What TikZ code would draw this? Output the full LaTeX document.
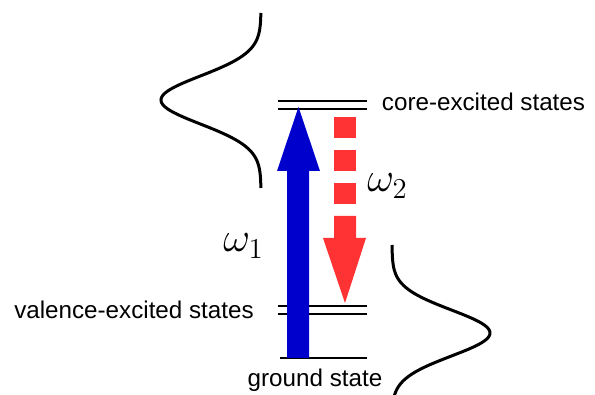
\documentclass[tikz,border=0pt]{standalone}
\usepackage{fontspec}
\setmainfont{Liberation Sans}
\definecolor{upblue}{RGB}{0,0,204}
\definecolor{downred}{RGB}{255,51,51}
\begin{document}
\begin{tikzpicture}[x=0.5pt,y=-0.5pt,
  level/.style={line width=1pt, black},
  gauss/.style={line width=1.5pt, black, line join=round},
  lbl/.style={inner sep=0pt, font=\fontsize{12.1}{14}\selectfont, anchor=base},
  omega/.style={inner sep=0pt, font=\fontsize{20.5}{24}\selectfont, anchor=base west}]
\useasboundingbox (0,0) rectangle (595,395);
\clip (0,0) rectangle (595,395);
% energy levels
\coordinate (c1l) at (278,101); \coordinate (c1r) at (367,101);
\coordinate (c2l) at (278,109); \coordinate (c2r) at (367,109);
\coordinate (v1l) at (278,306); \coordinate (v1r) at (367,306);
\coordinate (v2l) at (278,314); \coordinate (v2r) at (367,314);
\coordinate (gl) at (280,358);  \coordinate (gr) at (367,358);
\draw[level] (c1l) -- (c1r);
\draw[level] (c2l) -- (c2r);
\draw[level] (v1l) -- (v1r);
\draw[level] (v2l) -- (v2r);
\draw[level] (gl) -- (gr);
% gaussians
\draw[gauss] plot[domain=13:188, samples=120, variable=\t] ({261-100*exp(-((\t-100)/24)^2/2)}, \t);
\draw[gauss] plot[domain=245:400, samples=120, variable=\t] ({392+98*exp(-((\t-333)/23)^2/2)}, \t);
% blue up arrow
\fill[upblue] (287,358) -- (287,171) -- (277,171) -- (298.5,107) -- (320,171) -- (309,171) -- (309,358) -- cycle;
% red dashed down arrow
\fill[downred] (334,117) rectangle (356,138);
\fill[downred] (334,150) rectangle (356,171);
\fill[downred] (334,183) rectangle (356,204);
\fill[downred] (334,216) -- (356,216) -- (356,238) -- (366,238) -- (345,303) -- (323,238) -- (334,238) -- cycle;
% labels
\node[lbl] (core) at (483.5,111) {core-excited states};
\node[lbl] (val) at (134,319) {valence-excited states};
\node[lbl] (gnd) at (315,387) {ground state};
\node[omega] (w1) at (223,252) {$\omega_1$};
\node[omega] (w2) at (367,192) {$\omega_2$};
\end{tikzpicture}
\end{document}
